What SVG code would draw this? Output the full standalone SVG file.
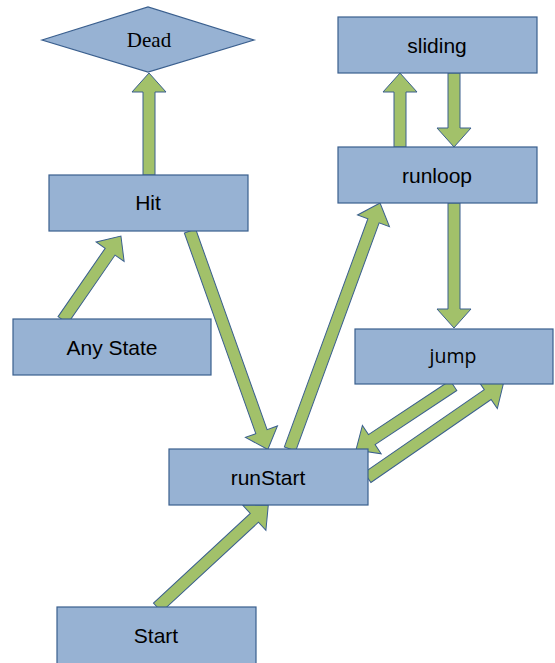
<svg xmlns="http://www.w3.org/2000/svg" width="555" height="663" viewBox="0 0 555 663">
  <style>
    .box { fill: #97b2d3; stroke: #3a5f8e; stroke-width: 1.2; }
    .lbl { font-family: "Liberation Sans", Arial, sans-serif; font-size: 21px; fill: #000; text-anchor: middle; }
    .serif { font-family: "Liberation Serif", "Times New Roman", serif; }
    .cal { font-family: "Open Sans", "Liberation Sans", sans-serif; font-size: 19.5px; }
    .arr { fill: #a2c16a; stroke: #3a5f8e; stroke-width: 1; stroke-linejoin: miter; }
  </style>
  <rect width="555" height="663" fill="#ffffff"/>

  <!-- block arrows: each drawn along +x from 0 to its length, then placed -->
  <g id="connectors">
    <!-- Hit -> Dead -->
    <path class="arr" transform="translate(149,175) rotate(-90)" d="M0,-6 H83 V-17 L102,0 L83,17 V6 H0 Z"/>
    <!-- Any State -> Hit -->
    <path class="arr" transform="translate(63,320) rotate(-55.4)" d="M0,-6 H83 V-17 L102,0 L83,17 V6 H0 Z"/>
    <!-- Hit -> runStart -->
    <path class="arr" transform="translate(190,231) rotate(70.4)" d="M0,-6 H213 V-17 L232,0 L213,17 V6 H0 Z"/>
    <!-- runStart -> runloop -->
    <path class="arr" transform="translate(290,449) rotate(-69.9)" d="M0,-6 H243 V-17 L262,0 L243,17 V6 H0 Z"/>
    <!-- runloop -> sliding -->
    <path class="arr" transform="translate(400,147) rotate(-90)" d="M0,-6 H55 V-17 L74,0 L55,17 V6 H0 Z"/>
    <!-- sliding -> runloop -->
    <path class="arr" transform="translate(454,73) rotate(90)" d="M0,-6 H55 V-17 L74,0 L55,17 V6 H0 Z"/>
    <!-- runloop -> jump -->
    <path class="arr" transform="translate(454,203) rotate(90)" d="M0,-6 H106 V-17 L125,0 L106,17 V6 H0 Z"/>
    <!-- jump -> runStart -->
    <path class="arr" transform="translate(453.5,385.5) rotate(146.5)" d="M0,-6 H98 V-17 L117,0 L98,17 V6 H0 Z"/>
    <!-- runStart -> jump -->
    <path class="arr" transform="translate(367.5,477.5) rotate(-34.6)" d="M0,-6 H146 V-17 L165,0 L146,17 V6 H0 Z"/>
    <!-- Start -> runStart -->
    <path class="arr" transform="translate(157.5,607.5) rotate(-42.8)" d="M0,-6 H132 V-17 L151,0 L132,17 V6 H0 Z"/>
  </g>

  <g id="dead">
    <polygon class="box" points="42,40 148,7 254,40 148,72"/>
    <text class="lbl serif" x="149" y="47">Dead</text>
  </g>
  <g id="hit">
    <rect class="box" x="49" y="175" width="199" height="56"/>
    <text class="lbl" x="148" y="210">Hit</text>
  </g>
  <g id="anystate">
    <rect class="box" x="13" y="319" width="198" height="56"/>
    <text class="lbl" x="112" y="355">Any State</text>
  </g>
  <g id="sliding">
    <rect class="box" x="338" y="17" width="199" height="56"/>
    <text class="lbl" x="437" y="53">sliding</text>
  </g>
  <g id="runloop">
    <rect class="box" x="338" y="147" width="199" height="56"/>
    <text class="lbl" x="437" y="183">runloop</text>
  </g>
  <g id="jump">
    <rect class="box" x="355" y="329" width="198" height="55"/>
    <text class="lbl cal" x="453" y="363">jump</text>
  </g>
  <g id="runstart">
    <rect class="box" x="169" y="449" width="199" height="56"/>
    <text class="lbl" x="268" y="485">runStart</text>
  </g>
  <g id="start">
    <rect class="box" x="57" y="607" width="199" height="60"/>
    <text class="lbl" x="156" y="643">Start</text>
  </g>
</svg>
